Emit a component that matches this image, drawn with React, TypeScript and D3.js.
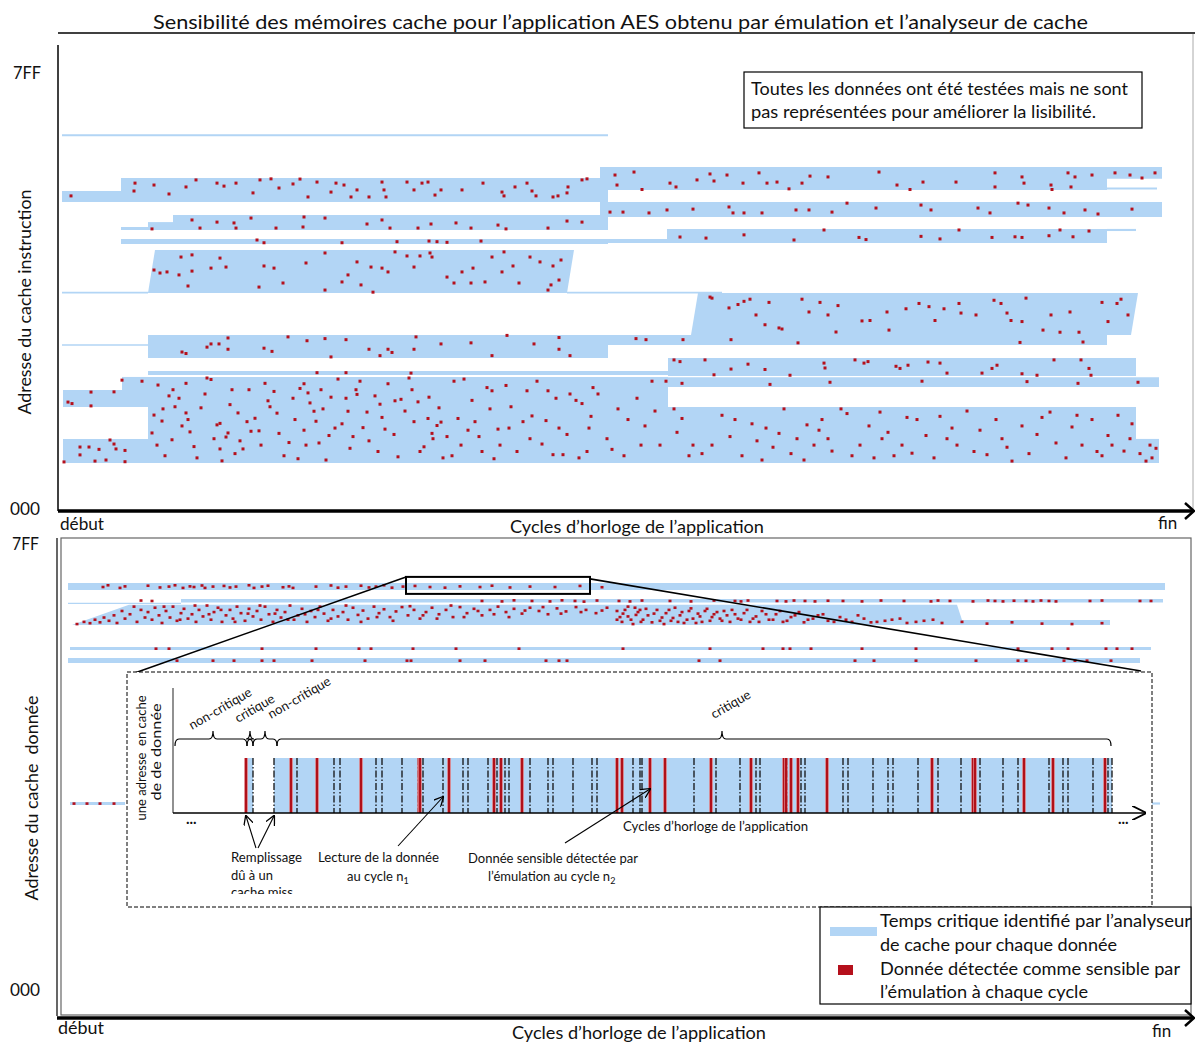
import React from 'react';
import * as d3 from 'd3';

const W = 1195, H = 1043;
const FONT = 'Lato, "Open Sans", sans-serif';
const BLUE = '#b2d5f5';
const RED = '#b5101c';

const TITLE = 'Sensibilité des mémoires cache pour l’application AES obtenu par émulation et l’analyseur de cache';
const X_LABEL = 'Cycles d’horloge de l’application';
const X_START = 'début';
const X_END = 'fin';
const Y_LABEL_TOP = 'Adresse du cache instruction';
const Y_LABEL_BOT = 'Adresse du cache  donnée';
const Y_TICKS = [0x000, 0x7ff];
const NOTE = ['Toutes les données ont été testées mais ne sont', 'pas représentées pour améliorer la lisibilité.'];
const LEGEND = ['Temps critique identifié par l’analyseur', 'de cache pour chaque donnée', 'Donnée détectée comme sensible par', 'l’émulation à chaque cycle'];

// ---- instruction cache: [cycle0, cycle1, addr0, addr1, slant]
const instrSegments: number[][] = [
  [0, 546, 1750, 1760, 0],
  [0, 59, 1441, 1493, 0],
  [59, 546, 1441, 1554, 0],
  [538, 1045, 1498, 1606, 0],
  [1045, 1100, 1550, 1606, 0],
  [1045, 1095, 1500, 1510, 0],
  [59, 86, 1310, 1324, 0],
  [86, 111, 1310, 1347, 0],
  [111, 546, 1310, 1380, 0],
  [538, 1100, 1371, 1441, 0],
  [59, 546, 1244, 1268, 0],
  [538, 605, 1249, 1268, 0],
  [605, 1045, 1249, 1315, 0],
  [1045, 1074, 1305, 1315, 0],
  [86, 505, 1014, 1216, 7],
  [0, 86, 1012, 1020, 0],
  [505, 660, 1012, 1020, 0],
  [629, 1069, 817, 1014, 7],
  [538, 1045, 770, 817, 0],
  [0, 86, 766, 774, 0],
  [86, 546, 709, 817, 0],
  [606, 1074, 624, 709, 0],
  [86, 606, 629, 648, 0],
  [1, 60, 479, 559, 0],
  [60, 86, 479, 620, 0],
  [1, 86, 216, 329, 0],
  [86, 606, 216, 620, 0],
  [538, 1097, 573, 618, 0],
  [606, 1074, 216, 479, 0],
  [1074, 1097, 216, 329, 0],
];

const dotsA = [[9,1470],[72,1493],[73,1530],[92,1521],[107,1479],[124,1512],[134,1545],[155,1530],[162,1516],[174,1530],[191,1484],[198,1545],[209,1550],[217,1507],[231,1526],[238,1549],[246,1465],[255,1535],[269,1488],[274,1530],[282,1521],[289,1465],[295,1498],[307,1465],[320,1535],[322,1498],[324,1465],[345,1535],[352,1498],[360,1530],[366,1535],[373,1474],[379,1498],[400,1498],[421,1530],[440,1488],[442,1470],[453,1512],[465,1530],[470,1493],[474,1470],[491,1465],[496,1470],[505,1484],[506,1512],[520,1545],[525,1550],
[553,1568],[555,1521],[572,1582],[580,1500],[608,1530],[614,1512],[635,1545],[648,1573],[652,1540],[665,1568],[681,1530],[697,1578],[705,1530],[715,1535],[727,1503],[740,1530],[748,1563],[766,1559],[817,1582],[835,1521],[848,1500],[861,1535],[894,1535],[933,1578],[933,1512],[960,1559],[962,1530],[989,1521],[990,1500],[1006,1578],[1013,1559],[1009,1512],[1030,1568],[1053,1578],[1068,1568],[1080,1554],[1093,1578]];
const dotsB = [[90,1315],[130,1357],[138,1319],[155,1347],[172,1343],[174,1319],[189,1366],[214,1319],[241,1324],[242,1371],[263,1366],[305,1338],[320,1357],[328,1319],[356,1319],[369,1338],[394,1343],[409,1319],[436,1333],[444,1315],[486,1319],[505,1352],[520,1347],
[548,1394],[561,1394],[587,1390],[605,1404],[631,1408],[667,1418],[671,1390],[682,1390],[700,1390],[734,1404],[747,1404],[770,1394],[785,1436],[814,1413],[859,1427],[869,1404],[916,1413],[928,1390],[956,1436],[966,1427],[987,1413],[1002,1390],[1023,1404],[1036,1385],[1070,1408]];
const dotsC = [[195,1263],[202,1250],[280,1250],[335,1255],[367,1258],[375,1255],[385,1252],[419,1258],
[618,1277],[644,1272],[682,1287],[732,1263],[762,1310],[797,1275],[804,1265],[859,1280],[878,1268],[897,1310],[930,1275],[953,1278],[960,1275],[987,1283],[998,1310],[1011,1278],[1027,1305]];
const dotsD = [[92,1122],[98,1108],[105,1113],[117,1099],[119,1183],[130,1193],[130,1117],[126,1047],[149,1131],[158,1178],[164,1136],[197,1042],[202,1141],[212,1131],[221,1061],[244,1155],[263,1202],[263,1028],[280,1066],[286,1099],[295,1160],[299,1052],[309,1136],[311,1018],[320,1131],[326,1113],[333,1207],[345,1188],[352,1136],[358,1188],[368,1202],[370,1183],[385,1089],[392,1061],[400,1113],[411,1131],[409,1061],[423,1066],[430,1183],[442,1207],[451,1141],[440,1113],[457,1061],[468,1183],[478,1160],[486,1028],[489,1052],[497,1075],[491,1141],[499,1169]];
const dotsE = [[648,995],[650,990],[667,944],[676,960],[682,975],[688,985],[707,970],[694,911],[717,850],[720,845],[703,865],[740,985],[747,925],[758,970],[766,911],[776,955],[774,831],[800,883],[808,885],[825,925],[827,840],[844,940],[857,965],[867,950],[873,885],[882,940],[897,965],[899,920],[914,911],[932,980],[939,965],[945,920],[949,885],[960,880],[964,990],[981,840],[989,911],[998,830],[1008,925],[1017,830],[1040,970],[1046,880],[1055,965],[1059,985],[1066,911],
[574,800],[584,795],[621,795],[669,795],[736,780],[958,782],[1021,784]];
const dotsF = [[120,737],[124,730],[145,760],[149,775],[157,775],[166,803],[166,750],[202,755],[210,740],[226,808],[245,790],[263,800],[269,714],[284,795],[307,750],[318,720],[326,750],[330,735],[352,750],[354,808],[379,775],[409,780],[430,720],[445,815],[472,775],[497,750],[508,720],[497,805]];
const dotsG = [[612,700],[618,692],[643,700],[652,630],[669,657],[686,680],[703,655],[728,628],[762,685],[763,662],[793,700],[802,685],[806,692],[834,670],[838,660],[846,675],[866,690],[878,685],[885,638],[920,638],[930,660],[935,675],[960,635],[975,628],[992,700],[1019,700],[1027,660],[1029,628],
[255,640],[284,640],[349,638],[604,600],[620,590],[708,585],[768,595],[860,600],[965,598],[1016,590],[1076,595]];
const dotsH = [[6,502],[10,495],[29,549],[29,484],[52,550],[18,291],[27,291],[37,280],[48,324],[52,305],[54,282],[63,275],[2,221],[18,254],[33,225],[44,230],[63,222],[60,605],[80,600],
[90,357],[92,441],[96,582],[100,413],[107,531],[101,470],[111,560],[117,520],[113,480],[124,590],[124,451],[126,420],[128,362],[132,293],[139,475],[145,615],[149,608],[155,395],[158,402],[158,282],[160,226],[166,357],[164,338],[170,560],[176,451],[178,320],[181,282],[187,560],[189,365],[193,426],[197,367],[206,508],[208,480],[212,552],[217,355],[227,312],[231,520],[236,236],[238,566],[242,588],[242,370],[246,545],[248,498],[252,459],[254,412],[257,310],[261,470],[267,345],[269,525],[276,610],[280,400],[286,459],[288,285],[294,560],[295,538],[301,382],[307,320],[313,531],[318,492],[320,430],[326,588],[332,350],[333,508],[339,515],[347,615],[352,410],[356,503],[362,292],[366,425],[370,355],[371,330],[375,392],[379,408],[381,240],[390,250],[392,600],[396,425],[402,610],[406,370],[413,410],[420,270],[425,570],[430,555],[432,236],[436,375],[444,580],[449,480],[461,410],[465,555],[470,437],[480,305],[486,555],[491,255],[497,380],[501,255],[508,540],[514,510],[520,495],[525,270],[529,435],[531,570],[545,330],[556,470],[562,250],[575,520],[583,390],[590,600],[598,300],
[95,300],[103,250],[110,325],[120,390],[135,240],[143,540],[152,330],[168,490],[173,260],[185,410],[199,300],[203,590],[215,450],[222,250],[233,420],[244,300],[259,560],[264,230],[273,380],[284,520],[291,340],[298,600],[305,455],[316,270],[323,375],[336,245],[343,460],[350,560],[358,270],[367,525],[377,475],[385,340],[399,300],[410,510],[417,340],[428,470],[438,300],[447,380],[455,270],[468,330],[475,600],[484,415],[494,520],[505,350],[517,240],[527,380],[536,540],[550,280],[566,420],[579,300],[593,460],
[612,470],[620,425],[631,300],[640,260],[660,440],[668,340],[680,250],[690,400],[700,230],[704,380],[711,290],[717,355],[722,470],[735,330],[742,230],[745,395],[752,300],[760,420],[766,330],[770,272],[779,470],[785,448],[798,300],[807,390],[812,240],[818,455],[826,360],[832,250],[840,300],[850,262],[855,420],[864,345],[872,240],[878,435],[885,330],[895,300],[905,460],[918,370],[925,255],[934,420],[940,330],[950,225],[960,390],[967,260],[975,350],[988,455],[994,310],[1004,240],[1010,385],[1020,300],[1030,420],[1040,250],[1046,345],[1056,440],[1062,272],[1068,330],[1078,260],[1088,300],[1094,285],
[615,360],[627,250],[650,300],[673,420],[695,320],[729,260],[757,370],[790,250],[820,330],[845,430],[890,380],[912,270],[945,290],[980,430],[1015,440],[1035,270],[1050,300],[1070,400],[1084,225],[1090,240]];

// ---- data cache
const dataSegments: number[][] = [
  [6, 1103, 1836, 1868],
  [6, 119, 1772, 1777],
  [119, 1101, 1778, 1795],
  [8, 1089, 1561, 1574],
  [6, 1078, 1501, 1524],
  [8, 63, 849, 863],
  [1088, 1098, 851, 861],
];
const dataPolygon = [[10,1675],[67,1768],[895,1768],[900,1698],[1048,1698],[1048,1675]];
const dots1 = [[41,1850],[46,1858],[58,1846],[63,1853],[86,1856],[98,1848],[107,1852],[113,1858],[121,1846],[128,1853],[132,1850],[140,1857],[143,1846],[151,1852],[162,1855],[168,1848],[174,1852],[187,1858],[192,1846],[200,1852],[206,1856],[221,1849],[227,1853],[231,1846],[254,1852],[269,1857],[276,1847],[284,1852],[299,1856],[307,1848],[314,1852],[322,1858],[330,1847],[341,1852],[353,1855],[368,1850],[383,1847],[398,1853],[418,1850],[430,1856],[448,1848],[468,1852],[493,1850],[518,1855],[540,1849]];
const dots2 = [[79,1788],[90,1786],[420,1786],[440,1784],[452,1789],[470,1786],[488,1784],[500,1789],[513,1786],[522,1783],[535,1788],[557,1786],[568,1784],[580,1788],[608,1786],[629,1784],[652,1788],[673,1786],[679,1784],[686,1788],[715,1786],[724,1784],[732,1788],[743,1786],[753,1784],[766,1787],[781,1786],[800,1784],[819,1788],[842,1786],[869,1784],[876,1788],[888,1786],[911,1784],[926,1788],[933,1786],[941,1784],[952,1787],[964,1786],[971,1784],[979,1788],[987,1786],[994,1784],[1028,1786],[1040,1788],[1078,1786],[1089,1786]];
const dots3 = [[15,1680],[22,1690],[28,1684],[33,1700],[38,1688],[42,1710],[47,1695],[52,1720],[55,1685],[60,1740],[63,1705],[68,1725],[72,1760],[75,1690],[79,1745],[83,1710],[86,1735],[90,1700],[93,1755],[97,1720],[100,1685],[104,1740],[108,1710],[111,1760],[115,1695],[119,1730],[122,1750],[126,1705],[130,1725],[134,1690],[137,1745],[141,1715],[145,1765],[149,1700],[152,1735],[156,1755],[160,1690],[164,1720],[168,1745],[171,1705],[175,1760],[179,1730],[183,1695],[187,1750],[191,1715],[195,1740],[199,1700],[203,1760],[207,1725],[211,1690],[215,1745],[219,1710],[223,1735],[228,1765],[232,1700],[236,1720],[240,1750],[245,1690],[249,1740],[253,1712],[258,1760],[262,1728],[266,1695],[271,1745],[276,1715],[281,1735],[286,1700],[291,1755],[296,1722],[301,1742],[306,1705],[312,1760],[317,1730],[322,1748],[328,1712],[334,1738],[340,1758],[346,1720],[352,1745],[358,1705],[364,1735],[370,1755],[377,1725],[384,1745],[391,1712],[398,1758],[405,1730],[412,1750],[420,1720],[428,1745],[436,1760],[444,1735],[452,1750],[460,1728],[468,1755],[477,1740],[486,1725],[495,1752],[504,1738],[514,1758],[524,1745],[534,1730],[545,1755],[555,1740],[566,1760],[578,1745],
[102,1760],[118,1700],[133,1765],[147,1725],[159,1745],[173,1690],[186,1728],[198,1765],[213,1728],[226,1700],[243,1725],[256,1745],[269,1705],[284,1765],[299,1690],[315,1712],[331,1695],[348,1762],[361,1720],[375,1705],[389,1765],[402,1712],[416,1740],[432,1725],[447,1712],[463,1742],[481,1758],[499,1728],[519,1735],[540,1742],[561,1728],[573,1755],
[555,1700],[560,1690],[566,1715],[571,1680],[576,1735],[581,1700],[586,1720],[590,1688],[595,1745],[600,1710],[604,1730],[609,1695],[613,1755],[618,1720],[622,1685],[627,1740],[631,1705],[636,1728],[640,1690],[645,1750],[650,1712],[655,1735],[660,1695],[665,1720],[670,1745],[676,1705],[682,1730],[688,1690],[694,1715],[700,1740],[707,1700],[714,1725],[721,1690],[729,1712],[737,1735],[746,1700],[756,1720],[766,1695],[778,1712],[790,1690],[802,1705],[815,1690],[830,1700],[845,1685],[862,1695],[880,1685],[900,1690],[925,1682],[950,1688],[980,1682],[1010,1680],[1040,1684],
[558,1712],[563,1745],[569,1700],[574,1722],[579,1690],[584,1750],[592,1728],[598,1695],[602,1680],[607,1745],[611,1708],[616,1690],[620,1735],[625,1700],[629,1752],[634,1685],[638,1715],[643,1740],[648,1695],[652,1725],[658,1705],[662,1740],[668,1690],[673,1725],[679,1700],[685,1745],[691,1705],[697,1690],[704,1725],[711,1700],[718,1740],[725,1695],[733,1720],[742,1688],[751,1705],[761,1725],[772,1690],[784,1700],[796,1720],[809,1688],[823,1695],[838,1705],[854,1690],[871,1700]];
const dots4 = [94,107,200,254,297,309,351,394,457,561,648,701,721,728,749,800,854,956,990,1006,1044,1055,1070].map(c => [c, 1567]);
const dots5 = [115,151,172,200,212,250,303,345,349,398,423,484,497,505,637,658,793,812,854,914,956,964,1002,1013,1025,1049].map(c => [c, 1512]);
const dots6 = [[12,856],[25,856],[38,856],[52,856]];
const zoomWindow = { c0: 344, c1: 528, a0: 1818, a1: 1896 };

// ---- inset: one address of the data cache
const insetCritical = [[74, 80], [101, 939]];
const insetSensitive = [73,118,144,188,246,247,276,321,328,349,444,449,477,492,538,578,611,613,618,625,654,759,800,802,851,880,932];
const insetReads = [80,101,124,161,167,203,209,229,245,250,270,290,295,315,324,332,336,357,375,380,400,419,424,460,467,469,521,543,567,583,587,614,628,632,670,675,700,715,720,745,765,788,807,830,845,876,890,895,920,935,939];
const insetBraces = [
  { c0: 2, c1: 74, m: 40, label: 'non-critique' },
  { c0: 74, c1: 80, m: 77, label: 'critique' },
  { c0: 80, c1: 104, m: 92, label: 'non-critique' },
  { c0: 104, c1: 938, m: 549, label: 'critique' },
];
const braceLabelPos = [[192, 730], [238, 723], [271, 719], [714, 719]];

const xTop = d3.scaleLinear().domain([0, 1100]).range([62, 1162]);
const yTop = d3.scaleLinear().domain([0, 0x7ff]).range([509, 73]);
const xBot = d3.scaleLinear().domain([0, 1100]).range([62, 1162]);
const yBot = d3.scaleLinear().domain([0, 0x7ff]).range([990, 544]);
const xIn = d3.scaleLinear().domain([0, 972]).range([173, 1145]);
const yIn = d3.scaleLinear().domain([0, 1]).range([813, 758]);
const fmtHex = (v: number) => v.toString(16).toUpperCase().padStart(3, '0');

const line = d3.line();

function segPath(s: number[], xs: any, ys: any) {
  const [c0, c1, a0, a1, sl = 0] = s;
  return line([[xs(c0 + sl), ys(a1)], [xs(c1 + sl), ys(a1)], [xs(c1), ys(a0)], [xs(c0), ys(a0)]]) + 'Z';
}

function bracePath(x0: number, x1: number, xm: number, y: number) {
  return `M${x0},${y + 7} Q${x0},${y} ${x0 + 4},${y} L${xm - 4},${y} Q${xm},${y} ${xm},${y - 8} Q${xm},${y} ${xm + 4},${y} L${x1 - 4},${y} Q${x1},${y} ${x1},${y + 7}`;
}

const T = (p: any) => <text fontFamily={FONT} fill="#111" lengthAdjust="spacingAndGlyphs" {...p} />;

export default function App() {
  const allTopDots = [...dotsA, ...dotsB, ...dotsC, ...dotsD, ...dotsE, ...dotsF, ...dotsG, ...dotsH];
  const allBotDots = [...dots1, ...dots2, ...dots3, ...dots4, ...dots5, ...dots6];
  return (
    <svg width={W} height={H} style={{ position: 'absolute', left: 0, top: 0, background: '#fff' }}>
      <defs>
        <marker id="arr" viewBox="0 0 10 10" refX="9" refY="5" markerWidth="9" markerHeight="9" orient="auto">
          <path d="M0,0 L10,5 L0,10" fill="none" stroke="#000" strokeWidth="1.3" />
        </marker>
        <clipPath id="clipMiss"><rect x={0} y={0} width={W} height={894} /></clipPath>
      </defs>
      <rect width={W} height={H} fill="#fff" />

      {/* title */}
      <T x={153} y={29} fontSize={20} textLength={935}>{TITLE}</T>
      <line x1={58} x2={1195} y1={33} y2={33} stroke="#000" strokeWidth={1.5} />
      <line x1={1193} x2={1193} y1={34} y2={510} stroke="#aaa" strokeWidth={1} />

      {/* ===== top panel ===== */}
      {instrSegments.map((s, i) => <path key={i} d={segPath(s, xTop, yTop)} fill={BLUE} />)}
      {allTopDots.map(([c, a], i) => <rect key={i} x={xTop(c) - 1.5} y={yTop(a) - 1.5} width={3} height={3} fill={RED} />)}
      <line x1={58} x2={58} y1={45} y2={511} stroke="#000" strokeWidth={1.5} />
      <line x1={58} x2={1192} y1={511} y2={511} stroke="#000" strokeWidth={3.5} />
      <path d="M1185,503 L1194,511 L1185,519" fill="none" stroke="#000" strokeWidth={2.5} />
      {Y_TICKS.map(v => <T key={v} x={v ? 13 : 10} y={yTop(v) + 6} fontSize={17} textLength={v ? 28 : 30}>{fmtHex(v)}</T>)}
      <T transform="translate(31,302) rotate(-90)" textAnchor="middle" fontSize={17} textLength={225}>{Y_LABEL_TOP}</T>
      <T x={60} y={530} fontSize={17} textLength={44}>{X_START}</T>
      <T x={510} y={533} fontSize={17} textLength={254}>{X_LABEL}</T>
      <T x={1158} y={529} fontSize={17}>{X_END}</T>
      <rect x={744} y={72} width={398} height={56} fill="#fff" stroke="#000" strokeWidth={1.2} />
      <T x={751} y={95} fontSize={16.5} textLength={377}>{NOTE[0]}</T>
      <T x={751} y={118} fontSize={16.5} textLength={345}>{NOTE[1]}</T>

      {/* ===== bottom panel ===== */}
      <rect x={61} y={538} width={1130} height={477} fill="none" stroke="#666" strokeWidth={1.2} />
      <line x1={57} x2={57} y1={538} y2={1016} stroke="#000" strokeWidth={1.2} />
      {dataSegments.map((s, i) => <path key={i} d={segPath(s, xBot, yBot)} fill={BLUE} />)}
      <path d={line(dataPolygon.map(([c, a]) => [xBot(c), yBot(a)]) as any) + 'Z'} fill={BLUE} />
      {allBotDots.map(([c, a], i) => <rect key={i} x={xBot(c) - 1.5} y={yBot(a) - 1.2} width={3} height={2.6} fill={RED} />)}
      <rect x={xBot(zoomWindow.c0)} y={yBot(zoomWindow.a1)} width={xBot(zoomWindow.c1) - xBot(zoomWindow.c0)} height={yBot(zoomWindow.a0) - yBot(zoomWindow.a1)} fill="none" stroke="#000" strokeWidth={2} />
      <line x1={xBot(zoomWindow.c0)} y1={yBot(zoomWindow.a1)} x2={129} y2={675} stroke="#000" strokeWidth={1.6} />
      <line x1={xBot(zoomWindow.c1)} y1={yBot(zoomWindow.a1) + 2} x2={1141} y2={671} stroke="#000" strokeWidth={1.6} />

      {/* inset */}
      <rect x={127} y={672} width={1025} height={235} fill="#fff" stroke="#000" strokeWidth={1} strokeDasharray="4,2" />
      {insetCritical.map(([c0, c1], i) => <rect key={i} x={xIn(c0)} y={yIn(1)} width={xIn(c1) - xIn(c0)} height={yIn(0) - yIn(1)} fill={BLUE} />)}
      {insetReads.map((c, i) => <line key={i} x1={xIn(c)} x2={xIn(c)} y1={yIn(1)} y2={yIn(0)} stroke="#111" strokeWidth={1.3} strokeDasharray="7,2,1.5,2" />)}
      {insetSensitive.map((c, i) => (
        <g key={i}>
          <line x1={xIn(c)} x2={xIn(c)} y1={yIn(1)} y2={yIn(0)} stroke="#e58a90" strokeWidth={3.6} />
          <line x1={xIn(c)} x2={xIn(c)} y1={yIn(1)} y2={yIn(0)} stroke="#b0101a" strokeWidth={2.2} />
        </g>
      ))}
      <line x1={173} x2={173} y1={688} y2={813} stroke="#555" strokeWidth={1.3} />
      <line x1={173} x2={1145} y1={813} y2={813} stroke="#000" strokeWidth={1.6} markerEnd="url(#arr)" />
      <T x={186} y={824} fontSize={15} fontWeight="bold">...</T>
      <T x={1118} y={824} fontSize={15} fontWeight="bold">...</T>
      <T x={623} y={831} fontSize={13} textLength={185}>{X_LABEL}</T>
      <T transform="translate(146,758) rotate(-90)" textAnchor="middle" fontSize={13} textLength={125} style={{ whiteSpace: 'pre' }}>une adresse  en cache</T>
      <T transform="translate(161,752) rotate(-90)" textAnchor="middle" fontSize={13} textLength={97}>de de donnée</T>
      {insetBraces.map((b, i) => (
        <g key={i}>
          <path d={bracePath(xIn(b.c0), xIn(b.c1), xIn(b.m), 739)} fill="none" stroke="#000" strokeWidth={1.2} />
          <T transform={`translate(${braceLabelPos[i][0]},${braceLabelPos[i][1]}) rotate(-30)`} fontSize={13}>{b.label}</T>
        </g>
      ))}
      {/* annotations */}
      <line x1={256} y1={848} x2={xIn(73)} y2={816} stroke="#000" strokeWidth={1.1} markerEnd="url(#arr)" />
      <line x1={258} y1={848} x2={xIn(101)} y2={816} stroke="#000" strokeWidth={1.1} markerEnd="url(#arr)" />
      <line x1={398} y1={846} x2={xIn(270)} y2={797} stroke="#000" strokeWidth={1.1} markerEnd="url(#arr)" />
      <line x1={565} y1={843} x2={xIn(477)} y2={789} stroke="#000" strokeWidth={1.1} markerEnd="url(#arr)" />
      <T x={231} y={862} fontSize={13} textLength={71}>Remplissage</T>
      <T x={231} y={880} fontSize={13} textLength={42}>dû à un</T>
      <g clipPath="url(#clipMiss)"><T x={231} y={897} fontSize={13} textLength={62}>cache miss</T></g>
      <T x={318} y={862} fontSize={13} textLength={121}>Lecture de la donnée</T>
      <T x={347} y={881} fontSize={13}>au cycle n<tspan fontSize={9} dy={3}>1</tspan></T>
      <T x={468} y={863} fontSize={13} textLength={170}>Donnée sensible détectée par</T>
      <T x={488} y={881} fontSize={13}>l’émulation au cycle n<tspan fontSize={9} dy={3}>2</tspan></T>

      {/* legend */}
      <rect x={820} y={907} width={371} height={97} fill="#fff" stroke="#000" strokeWidth={1.2} />
      <rect x={830} y={927} width={47} height={9} fill={BLUE} />
      <rect x={838} y={965} width={15} height={10} fill={RED} />
      <T x={880} y={927} fontSize={16.5} textLength={311}>{LEGEND[0]}</T>
      <T x={880} y={951} fontSize={16.5} textLength={237}>{LEGEND[1]}</T>
      <T x={880} y={975} fontSize={16.5} textLength={300}>{LEGEND[2]}</T>
      <T x={880} y={998} fontSize={16.5} textLength={208}>{LEGEND[3]}</T>

      {/* bottom axis */}
      <line x1={57} x2={1192} y1={1018} y2={1018} stroke="#000" strokeWidth={3.5} />
      <path d="M1185,1010 L1194,1018 L1185,1026" fill="none" stroke="#000" strokeWidth={2.5} />
      {Y_TICKS.map(v => <T key={v} x={v ? 12 : 10} y={yBot(v) + 6} fontSize={17} textLength={v ? 27 : 30}>{fmtHex(v)}</T>)}
      <T transform="translate(38,798) rotate(-90)" textAnchor="middle" fontSize={17} textLength={205} style={{ whiteSpace: 'pre' }}>{Y_LABEL_BOT}</T>
      <T x={58} y={1034} fontSize={17} textLength={46}>{X_START}</T>
      <T x={512} y={1039} fontSize={17} textLength={254}>{X_LABEL}</T>
      <T x={1152} y={1037} fontSize={17}>{X_END}</T>
    </svg>
  );
}
